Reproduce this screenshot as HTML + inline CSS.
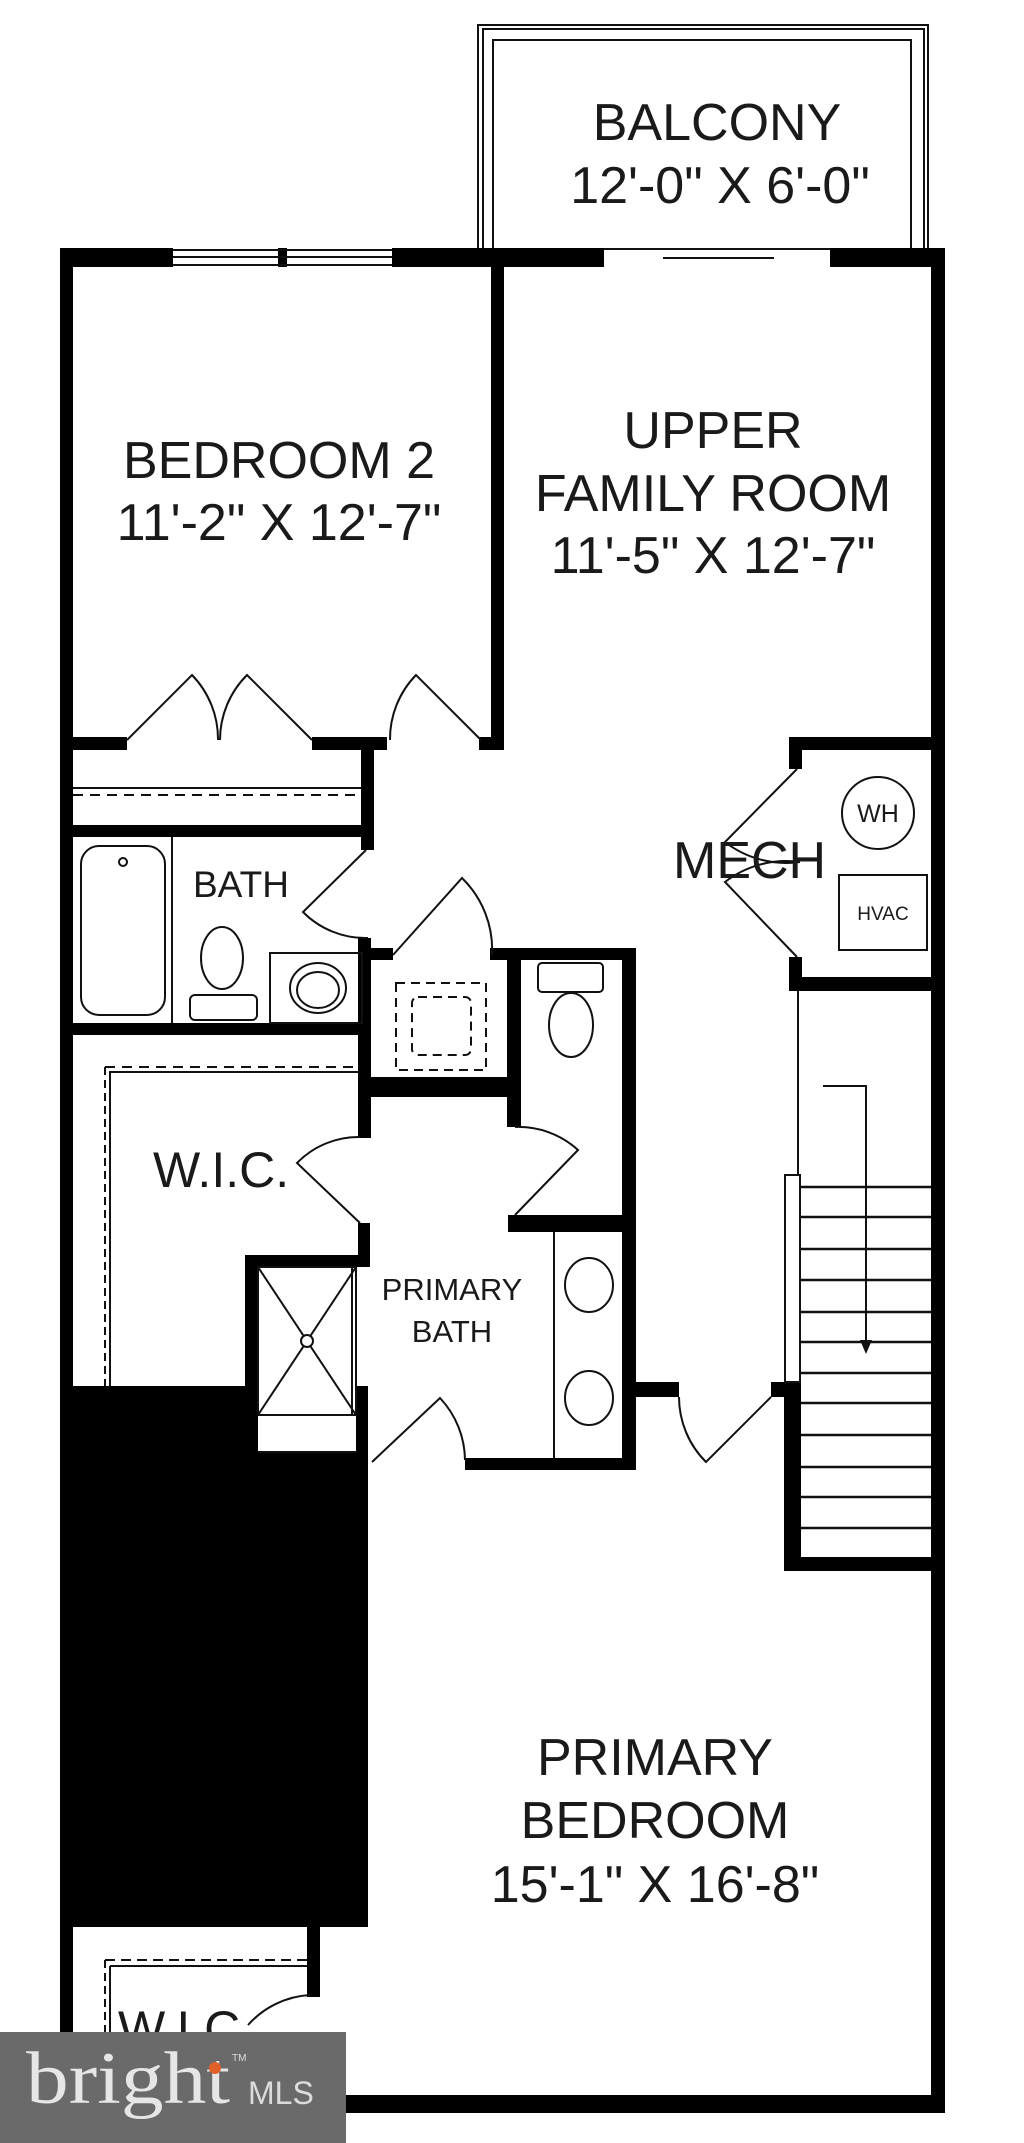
<!DOCTYPE html>
<html><head><meta charset="utf-8"><style>
html,body{margin:0;padding:0;background:#fff}
svg{display:block}
text{font-family:"Liberation Sans",sans-serif;fill:#1a1a1a}
</style></head><body>
<svg width="1024" height="2143" viewBox="0 0 1024 2143" xmlns="http://www.w3.org/2000/svg">
<rect width="1024" height="2143" fill="#fff"/>
<!-- Balcony -->
<g fill="none" stroke="#111" stroke-width="2">
<path d="M478 248 V25 H928 V248"/>
<path d="M483 248 V29 H924 V248"/>
<path d="M493 248 V40 H911 V248"/>
</g>
<text x="717" y="140" font-size="52" text-anchor="middle">BALCONY</text>
<text x="720" y="203" font-size="52" text-anchor="middle">12'-0" X 6'-0"</text>

<g fill="#000">
<rect x="60" y="248" width="113" height="19"/>
<rect x="278" y="248" width="9" height="19"/>
<rect x="392" y="248" width="212" height="19"/>
<rect x="830" y="248" width="115" height="19"/>
<rect x="60" y="248" width="13" height="1865"/>
<rect x="931" y="248" width="14" height="1865"/>
<rect x="60" y="2095" width="885" height="18"/>
<rect x="491" y="248" width="13" height="502"/>
<rect x="60" y="737" width="67" height="13"/>
<rect x="312" y="737" width="75" height="13"/>
<rect x="479" y="737" width="25" height="13"/>
<rect x="361" y="737" width="13" height="113"/>
<rect x="60" y="825" width="314" height="12"/>
<rect x="358" y="938" width="13" height="200"/>
<rect x="358" y="948" width="35" height="12"/>
<rect x="60" y="1023" width="310" height="12"/>
<rect x="358" y="1077" width="163" height="20"/>
<rect x="490" y="948" width="146" height="12"/>
<rect x="507" y="948" width="14" height="179"/>
<rect x="622" y="948" width="14" height="522"/>
<rect x="508" y="1215" width="125" height="17"/>
<rect x="358" y="1223" width="12" height="44"/>
<rect x="245" y="1255" width="125" height="12"/>
<rect x="245" y="1255" width="13" height="197"/>
<rect x="60" y="1386" width="308" height="541"/>
</g>
<rect x="258" y="1386" width="98" height="66" fill="#fff"/>
<rect x="356" y="1413" width="12" height="57" fill="#000"/>
<g fill="#000">
<rect x="465" y="1458" width="168" height="12"/>
<rect x="633" y="1382" width="46" height="15"/>
<rect x="771" y="1382" width="30" height="15"/>
<rect x="784" y="1382" width="17" height="189"/>
<rect x="784" y="1557" width="161" height="14"/>
<rect x="789" y="737" width="156" height="13"/>
<rect x="789" y="737" width="13" height="32"/>
<rect x="789" y="957" width="13" height="34"/>
<rect x="789" y="977" width="156" height="14"/>
<rect x="307" y="1927" width="13" height="70"/>
</g>

<g fill="none" stroke="#111" stroke-width="2">
<path d="M173 250 H392 M173 265 H392 M173 257 H392"/>
<path d="M604 249 H830 M663 258 H774"/>
<path d="M127 740 L192 675 A92 92 0 0 1 218 740"/>
<path d="M312 740 L247 675 A92 92 0 0 0 220 740"/>
<path d="M481 740 L416 675 A92 92 0 0 0 390 740"/>
<path d="M73 788 H361"/>
<path d="M73 795 H361" stroke-dasharray="10 7"/>
<path d="M366 850 L303 912 A88 88 0 0 0 368 938"/>
<path d="M393 955 L462 878 A100 100 0 0 1 492 955"/>
<rect x="81" y="846" width="84" height="169" rx="18"/>
<circle cx="123" cy="862" r="4"/>
<path d="M172 837 V1023"/>
<ellipse cx="222" cy="958" rx="21" ry="31"/>
<rect x="190" y="995" width="67" height="25" rx="5"/>
<rect x="270" y="953" width="92" height="70"/>
<ellipse cx="318" cy="988" rx="28" ry="25"/>
<ellipse cx="318" cy="990" rx="21" ry="18"/>
<rect x="396" y="983" width="90" height="87" stroke-dasharray="9 6"/>
<rect x="412" y="997" width="59" height="58" rx="6" stroke-dasharray="9 6"/>
<rect x="538" y="963" width="65" height="29" rx="4"/>
<ellipse cx="571" cy="1025" rx="22" ry="32"/>
<!-- WIC -->
<path d="M105 1067 V1386" stroke-dasharray="8 5"/>
<path d="M110 1071 V1386"/>
<path d="M105 1067 H358" stroke-dasharray="10 7"/>
<path d="M110 1072 H358"/>
<path d="M360 1223 L297 1163 A86 86 0 0 1 360 1137"/>
<path d="M515 1215 L578 1150 A88 88 0 0 0 515 1127"/>
<rect x="258" y="1267" width="98" height="148"/>
<path d="M258 1267 L356 1415 M356 1267 L258 1415"/>
<circle cx="307" cy="1341" r="6" fill="#fff"/>
<path d="M258 1452 H356"/>
<path d="M352 1267 V1415"/>
<path d="M372 1462 L440 1398 A92 92 0 0 1 465 1460"/>
<path d="M554 1232 V1458"/>
<ellipse cx="589" cy="1285" rx="24" ry="27"/>
<ellipse cx="589" cy="1398" rx="24" ry="27"/>
<path d="M771 1397 L706 1462 A92 92 0 0 1 679 1397"/>
<rect x="785" y="1175" width="15" height="207"/>
<path d="M798 991 V1175"/>
<path d="M797 769 L725 842 A100 100 0 0 0 800 862"/>
<path d="M797 957 L725 882 A100 100 0 0 1 800 862"/>
<circle cx="878" cy="813" r="36"/>
<rect x="839" y="875" width="88" height="75"/>
<path d="M105 1960 H307" stroke-dasharray="10 6"/>
<path d="M105 1960 V2032" stroke-dasharray="8 5"/>
<path d="M110 1966 H307 M110 1966 V2032"/>
<path d="M310 1995 A90 90 0 0 0 248 2025"/>
</g>
<g stroke="#111" stroke-width="2.5">
<path d="M801 1187H931M801 1217H931M801 1249H931M801 1280H931M801 1312H931M801 1342H931M801 1373H931M801 1403H931M801 1435H931M801 1467H931M801 1497H931M801 1528H931"/>
</g>
<path d="M823 1086 H866 V1345" fill="none" stroke="#111" stroke-width="2"/>
<path d="M860 1340 L872 1340 L866 1354 Z" fill="#111"/>

<text x="279" y="478" font-size="52" text-anchor="middle">BEDROOM 2</text>
<text x="279" y="540" font-size="52" text-anchor="middle">11'-2" X 12'-7"</text>
<text x="713" y="448" font-size="52" text-anchor="middle">UPPER</text>
<text x="713" y="511" font-size="52" text-anchor="middle">FAMILY ROOM</text>
<text x="713" y="573" font-size="52" text-anchor="middle">11'-5" X 12'-7"</text>
<text x="193" y="897" font-size="37">BATH</text>
<text x="673" y="878" font-size="52">MECH</text>
<text x="878" y="822" font-size="25" text-anchor="middle">WH</text>
<text x="883" y="920" font-size="19" text-anchor="middle">HVAC</text>
<text x="153" y="1187" font-size="50">W.I.C.</text>
<text x="452" y="1300" font-size="31" text-anchor="middle">PRIMARY</text>
<text x="452" y="1342" font-size="31" text-anchor="middle">BATH</text>
<text x="655" y="1775" font-size="52" text-anchor="middle">PRIMARY</text>
<text x="655" y="1838" font-size="52" text-anchor="middle">BEDROOM</text>
<text x="655" y="1902" font-size="52" text-anchor="middle">15'-1" X 16'-8"</text>
<text x="118" y="2046" font-size="50">W.I.C.</text>

<rect x="0" y="2032" width="346" height="111" fill="#6a6a6a"/>
<text x="26" y="2103" font-size="74" textLength="204" lengthAdjust="spacingAndGlyphs" style="font-family:'Liberation Serif',serif;fill:#e6e6e6">bright</text>
<circle cx="215" cy="2068" r="6" fill="#e0602a"/>
<text x="232" y="2061" font-size="10" style="fill:#ddd">TM</text>
<text x="248" y="2104" font-size="32" style="fill:#dcdcdc">MLS</text>
</svg>
</body></html>
